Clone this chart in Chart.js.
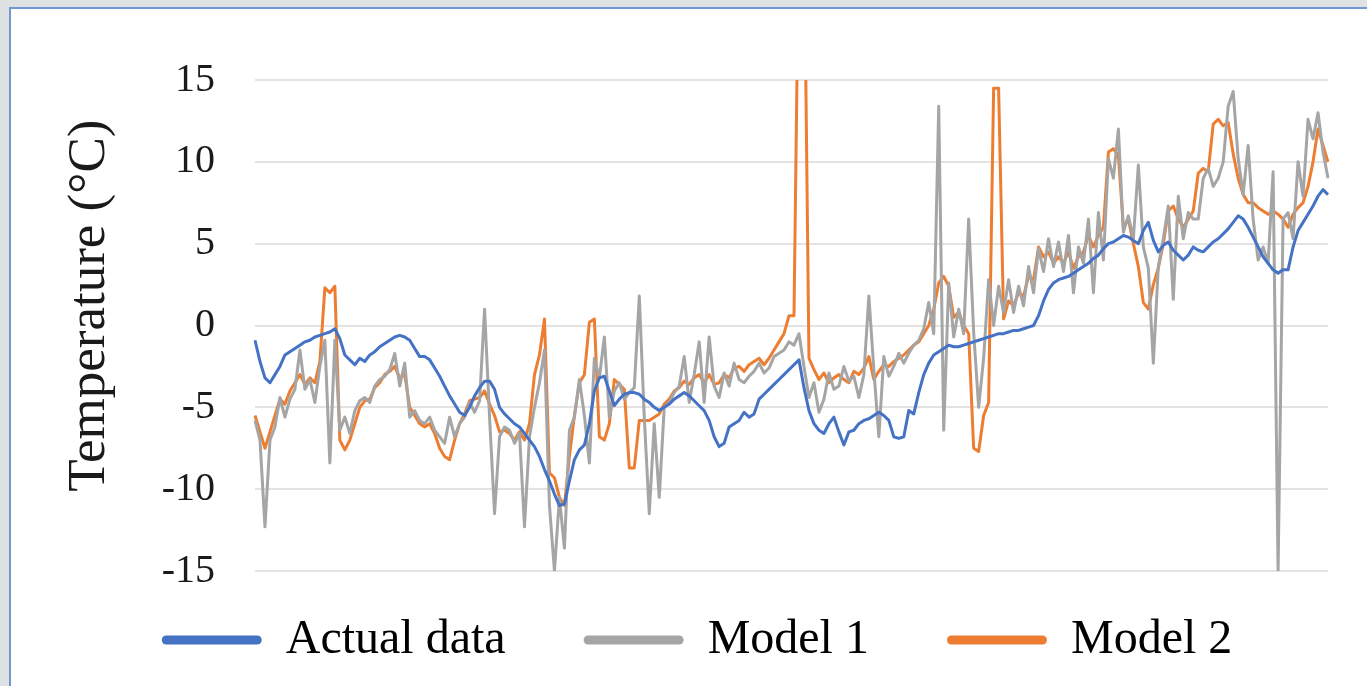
<!DOCTYPE html>
<html>
<head>
<meta charset="utf-8">
<title>Temperature models</title>
<script src="https://cdn.jsdelivr.net/npm/chart.js@4.4.1/dist/chart.umd.min.js"></script>
<style>
  html, body { margin: 0; padding: 0; width: 1367px; height: 686px; overflow: hidden; background: #dfe2e3; }
  #frame { position: absolute; left: 9px; top: 7px; width: 1370px; height: 700px; background: #fff; border: 2px solid #7097cf; box-sizing: border-box; }
  #wrap { position: absolute; left: 0; top: 0; width: 1367px; height: 686px; }
</style>
</head>
<body>
<div id="frame"></div>
<div id="wrap"><canvas id="tempChart"></canvas></div>
<script>
// daily temperatures (values above 15 are cut by the axis)
const actualData = [
  -0.9, -2.2, -3.2, -3.5, -3.0, -2.5, -1.8, -1.6, -1.4, -1.2,
  -1.0, -0.9, -0.7, -0.6, -0.5, -0.4, -0.2, -0.8, -1.8, -2.1,
  -2.4, -2.0, -2.2, -1.8, -1.6, -1.3, -1.1, -0.9, -0.7, -0.6,
  -0.7, -0.9, -1.4, -1.9, -1.9, -2.1, -2.6, -3.1, -3.7, -4.3,
  -4.8, -5.3, -5.5, -5.0, -4.3, -3.8, -3.4, -3.4, -3.9, -5.0,
  -5.4, -5.7, -6.0, -6.2, -6.6, -7.0, -7.4, -8.0, -8.8, -9.5,
  -10.3, -11.0, -10.9, -9.5, -8.2, -7.6, -7.3, -6.0, -4.0, -3.2,
  -3.1, -4.0, -4.9, -4.5, -4.2, -4.1, -4.1, -4.2, -4.5, -4.7,
  -5.0, -5.2, -5.0, -4.8, -4.5, -4.3, -4.1, -4.3, -4.6, -4.9,
  -5.2, -5.8, -6.8, -7.4, -7.2, -6.2, -6.0, -5.8, -5.3, -5.6,
  -5.4, -4.5, -4.2, -3.9, -3.6, -3.3, -3.0, -2.7, -2.4, -2.1,
  -3.8, -5.2, -6.0, -6.4, -6.6, -6.0, -5.6, -6.5, -7.3, -6.5,
  -6.4, -6.0, -5.8, -5.7, -5.5, -5.3, -5.5, -5.8, -6.8, -6.9,
  -6.8, -5.2, -5.4, -4.1, -3.0, -2.3, -1.8, -1.6, -1.4, -1.2,
  -1.3, -1.3, -1.2, -1.1, -1.0, -0.9, -0.8, -0.7, -0.6, -0.5,
  -0.5, -0.4, -0.3, -0.3, -0.2, -0.1, 0.0, 0.6, 1.5, 2.2,
  2.6, 2.8, 2.9, 3.0, 3.2, 3.4, 3.6, 3.8, 4.1, 4.3,
  4.7, 5.0, 5.1, 5.3, 5.5, 5.4, 5.2, 5.0, 5.8, 6.3,
  5.2, 4.5, 4.9, 5.1, 4.6, 4.3, 4.0, 4.3, 4.8, 4.6,
  4.5, 4.8, 5.1, 5.3, 5.6, 5.9, 6.3, 6.7, 6.5, 6.0,
  5.4, 4.8, 4.2, 3.8, 3.4, 3.2, 3.4, 3.4, 4.8, 5.8,
  6.3, 6.8, 7.3, 7.9, 8.3, 8.0
];

const model1 = [
  -5.8, -7.0, -12.3, -7.0, -6.2, -4.4, -5.6, -4.5, -3.9, -1.5,
  -3.9, -3.3, -4.7, -2.5, -0.9, -8.4, -0.9, -6.4, -5.6, -6.6,
  -5.2, -4.6, -4.4, -4.7, -3.7, -3.3, -3.1, -2.7, -1.7, -3.7,
  -2.3, -5.6, -5.2, -5.8, -6.0, -5.6, -6.4, -6.8, -7.2, -5.6,
  -6.8, -6.0, -5.6, -4.7, -5.3, -4.6, 1.0, -5.6, -11.5, -6.8,
  -6.2, -6.4, -7.2, -6.6, -12.3, -6.8, -5.0, -3.5, -1.5, -11.0,
  -15.0, -10.5, -13.6, -6.4, -5.6, -3.3, -5.5, -8.4, -2.0, -3.2,
  -0.7, -5.6, -4.0, -3.5, -4.5, -4.1, -3.8, 1.8, -5.6, -11.5,
  -6.0, -10.5, -5.0, -4.7, -4.1, -3.7, -1.9, -4.7, -3.0, -1.0,
  -4.7, -0.7, -3.7, -4.4, -2.9, -3.7, -2.3, -3.3, -3.5, -3.1,
  -2.8, -2.3, -2.9, -2.6, -1.9, -1.7, -1.5, -1.0, -1.2, -0.5,
  -2.5, -4.4, -3.5, -5.3, -4.5, -2.9, -3.9, -3.7, -2.5, -3.4,
  -3.1, -4.4, -3.0, 1.8, -2.7, -6.8, -1.9, -3.1, -2.5, -1.7,
  -2.3, -1.7, -1.2, -0.9, -0.2, 1.4, -0.5, 13.4, -6.4, 2.6,
  -0.7, 1.0, -0.5, 6.5, -0.4, -5.0, -2.0, 2.8, 0.0, 2.4,
  0.8, 2.8, 0.8, 2.4, 1.2, 3.6, 2.0, 4.7, 3.3, 5.3,
  3.6, 5.1, 3.3, 5.5, 2.0, 4.8, 3.8, 6.5, 2.0, 6.9,
  4.0, 10.2, 9.0, 12.0, 5.7, 6.7, 5.3, 9.8, 4.8, 3.5,
  -2.3, 3.6, 5.3, 7.3, 1.6, 7.9, 5.3, 6.9, 6.5, 6.5,
  9.0, 9.6, 8.5, 9.0, 10.0, 13.4, 14.3, 10.2, 8.0, 11.0,
  6.5, 4.0, 4.8, 3.8, 9.4, -15.0, 6.5, 6.9, 5.3, 10.0,
  7.9, 12.6, 11.4, 13.0, 10.6, 9.0
];

const model2 = [
  -5.5, -6.5, -7.5, -6.5, -5.5, -4.5, -4.8, -4.0, -3.5, -3.0,
  -3.6, -3.2, -3.5, -2.2, 2.3, 2.0, 2.4, -7.0, -7.6, -7.0,
  -6.0, -5.0, -4.6, -4.5, -3.8, -3.5, -3.0, -2.8, -2.5, -3.2,
  -3.0, -5.0, -5.5, -6.0, -6.2, -6.0, -6.6, -7.5, -8.0, -8.2,
  -7.0, -6.0, -5.4, -4.6, -4.5, -4.4, -4.0, -4.8, -5.5, -6.5,
  -6.4, -6.6, -7.0, -6.5, -7.0, -6.0, -3.0, -1.8, 0.4, -9.0,
  -9.3, -10.5, -11.0, -8.0, -5.5, -3.5, -3.0, 0.2, 0.4, -6.8,
  -7.0, -6.0, -3.3, -3.6, -3.9, -8.7, -8.7, -5.8, -5.8, -5.8,
  -5.6, -5.4, -4.8, -4.5, -4.0, -3.8, -3.4, -3.6, -3.2, -3.0,
  -3.5, -3.0, -3.6, -3.5, -3.0, -3.2, -2.6, -2.5, -2.8, -2.4,
  -2.2, -2.0, -2.4, -2.0, -1.5, -1.0, -0.5, 0.6, 0.6, 25,
  25, -2.0, -2.7, -3.3, -2.9, -3.5, -3.2, -3.0, -3.3, -3.5,
  -2.8, -3.0, -2.6, -1.9, -3.3, -2.8, -2.4, -2.5, -2.2, -2.0,
  -1.8, -1.5, -1.2, -1.0, -0.5, 0.0, 1.0, 2.6, 3.0, 2.4,
  0.5, 0.8, 0.0, -0.5, -7.5, -7.7, -5.5, -4.7, 14.5, 14.5,
  0.4, 1.5, 1.2, 2.0, 1.8, 3.0, 2.8, 4.8, 4.2, 4.5,
  3.8, 4.2, 3.8, 4.5, 3.5, 4.2, 4.5, 5.5, 4.8, 5.5,
  6.0, 10.6, 10.8, 10.4, 6.0, 6.5, 5.0, 3.6, 1.4, 1.0,
  2.5, 3.5, 5.0, 7.0, 7.3, 6.5, 6.0, 6.5, 7.0, 9.3,
  9.6, 9.4, 12.3, 12.6, 12.2, 12.4, 10.5, 9.0, 8.0, 7.5,
  7.5, 7.2, 7.0, 6.8, 7.0, 6.8, 6.5, 6.0, 6.8, 7.2,
  7.5, 8.5, 10.0, 12.0, 11.0, 10.0
];

const days = actualData.map((_, i) => i + 1);
const seriesNames = ['Actual data', 'Model 1', 'Model 2'];
const yMin = -15;
const yMax = 15;
const yStep = 5;

const serif = "'Liberation Serif', 'Times New Roman', serif";
const colors = ['#4472C4', '#A5A5A5', '#ED7D31'];

// legend band under the plot, and where its row sits
const LEGEND_BAND = 115;
const LEGEND_ROW_CENTER = 640;

const legendPlace = {
  id: 'legendPlace',
  beforeUpdate(chart) {
    const lg = chart.legend;
    if (lg && !lg._bandPatched) {
      const fit = lg.fit;
      lg.fit = function () {
        fit.call(this);
        this.height = LEGEND_BAND;
      };
      lg._bandPatched = true;
    }
  },
  afterLayout(chart) {
    // only move the top: the legend clips to its own box
    const lg = chart.legend;
    const pad = lg.options.labels.padding;
    const half = lg.options.labels.font.size / 2;
    lg.top = LEGEND_ROW_CENTER - half - pad;
  }
};

const ctx = document.getElementById('tempChart').getContext('2d');

new Chart(ctx, {
  type: 'line',
  data: {
    labels: days,
    datasets: [
      { label: seriesNames[0], data: actualData, borderColor: colors[0], backgroundColor: colors[0], borderWidth: 3 },
      { label: seriesNames[1], data: model1, borderColor: colors[1], backgroundColor: colors[1], borderWidth: 3 },
      { label: seriesNames[2], data: model2, borderColor: colors[2], backgroundColor: colors[2], borderWidth: 3 }
    ]
  },
  options: {
    responsive: true,
    maintainAspectRatio: false,
    animation: false,
    elements: {
      point: { radius: 0, hoverRadius: 0 },
      line: { tension: 0, borderJoinStyle: 'round' }
    },
    layout: { padding: { left: 66, right: 39, top: 80, bottom: 0 } },
    plugins: {
      tooltip: { enabled: false },
      legend: {
        position: 'bottom',
        labels: {
          boxWidth: 100,
          boxHeight: 9,
          padding: 78,
          color: '#1a1a1a',
          useBorderRadius: true,
          borderRadius: 4.5,
          font: { family: serif, size: 48 },
          generateLabels: (chart) => chart.data.datasets.map((ds, i) => ({
            text: ds.label,
            fillStyle: ds.borderColor,
            strokeStyle: ds.borderColor,
            lineWidth: 0,
            borderRadius: 4.5,
            hidden: false,
            datasetIndex: i
          }))
        }
      }
    },
    scales: {
      x: {
        display: false,
        offset: false
      },
      y: {
        min: yMin,
        max: yMax,
        afterFit: (scale) => { scale.width = 189; },
        border: { display: false },
        grid: { color: '#e3e3e3', lineWidth: 2, drawTicks: false },
        ticks: {
          stepSize: yStep,
          padding: 40,
          color: '#1a1a1a',
          font: { family: serif, size: 40 }
        },
        title: {
          display: true,
          // leading spaces lift the rotated title a little, as in the original
          text: '   Temperature (°C)',
          color: '#1a1a1a',
          padding: 0,
          font: { family: serif, size: 53, lineHeight: 0.9 }
        }
      }
    }
  },
  plugins: [legendPlace]
});
</script>
</body>
</html>
